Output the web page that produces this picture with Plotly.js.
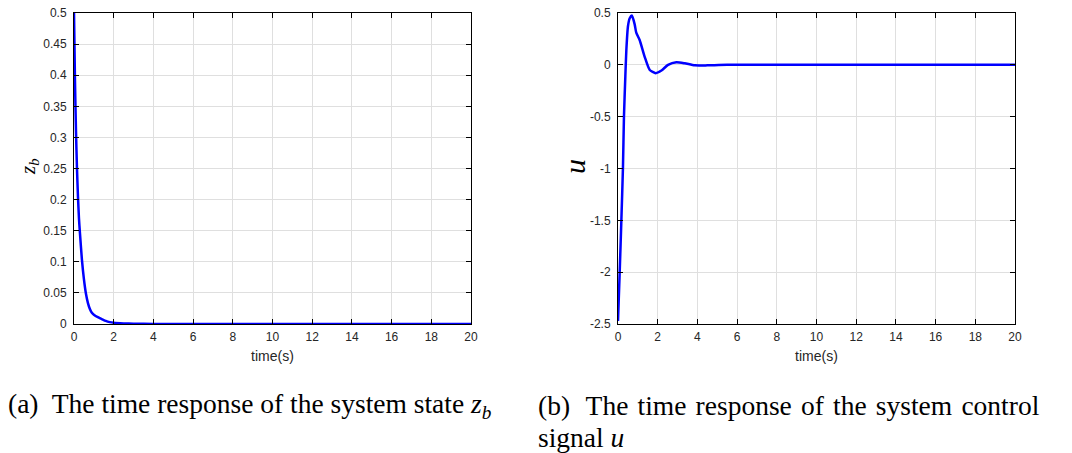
<!DOCTYPE html>
<html><head><meta charset="utf-8">
<script src="https://cdn.plot.ly/plotly-3.0.1.min.js"></script>
<style>html,body{margin:0;padding:0;background:#fff;}#plot{width:1072px;height:453px;}</style>
</head><body><div id="plot"></div>
<script>
// Left: system state z_b
const tZ = [0,0.05,0.1,0.15,0.2,0.25,0.3,0.4,0.5,0.6,0.7,0.8,0.9,1.0,1.2,1.4,1.6,1.8,2.0,2.5,3,4,5,20];
const zB = [0.5,0.39,0.31,0.25,0.205,0.17,0.146,0.103,0.072,0.049,0.034,0.024,0.018,0.015,0.011,0.008,0.005,0.003,0.002,0.001,0.0005,0.0001,0,0];
// Right: control signal u
const tU = [0,0.08,0.17,0.25,0.3,0.37,0.42,0.5,0.59,0.7,0.84,0.92,1.09,1.34,1.6,1.9,2.19,2.52,2.94,3.36,3.87,4.5,5.5,20];
const uSig = [-2.47,-2.03,-1.5,-0.99,-0.5,-0.11,0.14,0.37,0.45,0.475,0.39,0.31,0.24,0.08,-0.05,-0.08,-0.055,0.0,0.025,0.015,-0.005,-0.005,0,0];
const xTicks = [0,2,4,6,8,10,12,14,16,18,20];
const yTicksL = [0,0.05,0.1,0.15,0.2,0.25,0.3,0.35,0.4,0.45,0.5];
const yTickTextL = ['0','0.05','0.1','0.15','0.2','0.25','0.3','0.35','0.4','0.45','0.5'];
const yTicksR = [-2.5,-2,-1.5,-1,-0.5,0,0.5];
const yTickTextR = ['-2.5','-2','-1.5','-1','-0.5','0','0.5'];
const xLabel = 'time(s)';
const captionA = '(a)  The time response of the system state <i>z<sub>b</sub></i>';
const captionB1 = '(b) \u200A The\u200A time\u200A response\u200A of\u200A the\u200A system\u200A control';
const captionB2 = 'signal <i>u</i>';

const tickFont = {family:'Liberation Sans, Arial, sans-serif', size:12, color:'#262626'};
function xax(domain, anchor){
  return {domain:domain, anchor:anchor, range:[0,20], tickvals:xTicks, ticktext:xTicks.map(String),
    ticks:'inside', ticklen:5, tickcolor:'#000', showline:true, linecolor:'#000', linewidth:1, mirror:'ticks',
    showgrid:true, gridcolor:'#dfdfdf', gridwidth:1, zeroline:false, tickfont:tickFont, ticklabelstandoff:2,
    title:{text:xLabel, font:{family:'Liberation Sans, Arial, sans-serif', size:14, color:'#262626'}, standoff:7}};
}
function yax(domain, anchor, range, vals, txt){
  return {domain:domain, anchor:anchor, range:range, tickvals:vals, ticktext:txt,
    ticks:'inside', ticklen:5, tickcolor:'#000', showline:true, linecolor:'#000', linewidth:1, mirror:'ticks',
    showgrid:true, gridcolor:'#dfdfdf', gridwidth:1, zeroline:false, tickfont:tickFont, ticklabelstandoff:4};
}
const yDom = [1-324/453, 1-13/453];
const data = [
  {x:tZ, y:zB, type:'scatter', mode:'lines', line:{color:'#0000ff', width:2.5, shape:'spline', smoothing:0.6}, xaxis:'x', yaxis:'y', hoverinfo:'skip'},
  {x:tU, y:uSig, type:'scatter', mode:'lines', line:{color:'#0000ff', width:2.5, shape:'spline', smoothing:0.6}, xaxis:'x2', yaxis:'y2', hoverinfo:'skip'}
];
const layout = {
  width:1072, height:453, autosize:false, margin:{l:0,r:0,t:0,b:0},
  paper_bgcolor:'#fff', plot_bgcolor:'#fff', showlegend:false,
  xaxis: xax([74/1072, 471/1072], 'y'),
  yaxis: yax(yDom, 'x', [0,0.5], yTicksL, yTickTextL),
  xaxis2: xax([618/1072, 1015/1072], 'y2'),
  yaxis2: yax(yDom, 'x2', [-2.5,0.5], yTicksR, yTickTextR),
  annotations:[
    {text:'<i>z<sub>b</sub></i>', xref:'paper', yref:'paper', x:29/1072, y:1-166/453, textangle:-90, showarrow:false,
     font:{family:'Liberation Serif, Times New Roman, serif', size:21, color:'#000'}, xanchor:'center', yanchor:'middle'},
    {text:'<i>u</i>', xref:'paper', yref:'paper', x:574/1072, y:1-167/453, textangle:-90, showarrow:false,
     font:{family:'Liberation Serif, Times New Roman, serif', size:30, color:'#000'}, xanchor:'center', yanchor:'middle'},
    {text:captionA, xref:'paper', yref:'paper', x:6/1072, y:1-405/453, showarrow:false, xanchor:'left', yanchor:'middle',
     font:{family:'Liberation Serif, Times New Roman, serif', size:27.5, color:'#000'}},
    {text:captionB1, xref:'paper', yref:'paper', x:536/1072, y:1-405/453, showarrow:false, xanchor:'left', yanchor:'middle',
     font:{family:'Liberation Serif, Times New Roman, serif', size:27.5, color:'#000'}},
    {text:captionB2, xref:'paper', yref:'paper', x:536/1072, y:1-437/453, showarrow:false, xanchor:'left', yanchor:'middle',
     font:{family:'Liberation Serif, Times New Roman, serif', size:27.5, color:'#000'}}
  ]
};
Plotly.newPlot('plot', data, layout, {staticPlot:true, displayModeBar:false});
</script></body></html>
